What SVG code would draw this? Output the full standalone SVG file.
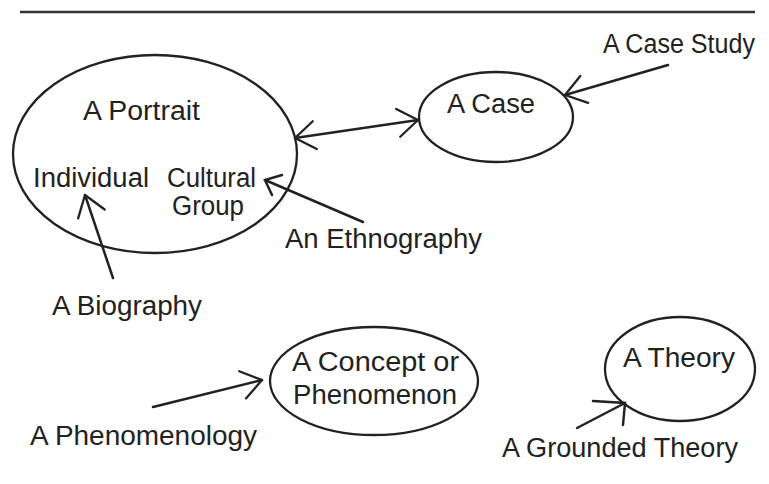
<svg xmlns="http://www.w3.org/2000/svg" width="769" height="484" viewBox="0 0 769 484">
  <defs>
    <marker id="open" viewBox="-26 -17 28 34" refX="0" refY="0" markerWidth="28" markerHeight="34" markerUnits="userSpaceOnUse" orient="auto-start-reverse">
      <path d="M-20,-14 L0,0 L-20,14" fill="none" stroke="#222" stroke-width="2.3" stroke-linecap="round" stroke-linejoin="round"/>
    </marker>
  </defs>
  <style>
    .shape { fill: none; stroke: #222; stroke-width: 2.3; }
    .link { fill: none; stroke: #222; stroke-width: 2.5; stroke-linecap: round; }
    .arrow { marker-end: url(#open); }
    .lbl { font-family: "Liberation Sans", Arial, sans-serif; font-size: 27px; fill: #222; }
  </style>
  <rect width="769" height="484" fill="#ffffff"/>
  <line x1="20" y1="12" x2="755" y2="12" stroke="#333" stroke-width="2.6"/>

  <g id="portrait">
    <ellipse class="shape" cx="155" cy="154" rx="142" ry="99"/>
    <text class="lbl" x="83" y="120" textLength="117" lengthAdjust="spacingAndGlyphs">A Portrait</text>
    <text class="lbl" x="33" y="187" textLength="116" lengthAdjust="spacingAndGlyphs">Individual</text>
    <text class="lbl" x="167" y="187" textLength="89" lengthAdjust="spacingAndGlyphs">Cultural</text>
    <text class="lbl" x="172" y="215" textLength="72" lengthAdjust="spacingAndGlyphs">Group</text>
  </g>
  <g id="case">
    <ellipse class="shape" cx="496" cy="117" rx="77" ry="45"/>
    <text class="lbl" x="447" y="113" textLength="88" lengthAdjust="spacingAndGlyphs">A Case</text>
  </g>
  <g id="case-study">
    <text class="lbl" x="603" y="53" textLength="152" lengthAdjust="spacingAndGlyphs">A Case Study</text>
  </g>
  <g id="ethnography">
    <text class="lbl" x="285" y="248" textLength="197" lengthAdjust="spacingAndGlyphs">An Ethnography</text>
  </g>
  <g id="biography">
    <text class="lbl" x="52" y="315" textLength="150" lengthAdjust="spacingAndGlyphs">A Biography</text>
  </g>
  <g id="concept">
    <ellipse class="shape" cx="374" cy="381" rx="104" ry="54"/>
    <text class="lbl" x="292" y="371" textLength="167" lengthAdjust="spacingAndGlyphs">A Concept or</text>
    <text class="lbl" x="293" y="404" textLength="164" lengthAdjust="spacingAndGlyphs">Phenomenon</text>
  </g>
  <g id="phenomenology">
    <text class="lbl" x="30" y="445" textLength="227" lengthAdjust="spacingAndGlyphs">A Phenomenology</text>
  </g>
  <g id="theory">
    <ellipse class="shape" cx="680" cy="369" rx="75" ry="52"/>
    <text class="lbl" x="623" y="367" textLength="112" lengthAdjust="spacingAndGlyphs">A Theory</text>
  </g>
  <g id="grounded-theory">
    <text class="lbl" x="502" y="457" textLength="236" lengthAdjust="spacingAndGlyphs">A Grounded Theory</text>
  </g>

  <g id="connectors">
    <line class="link arrow" x1="668" y1="65" x2="565" y2="95"/>
    <line class="link arrow" x1="295" y1="138" x2="418" y2="120" style="marker-start:url(#open)"/>
    <line class="link" x1="363" y1="222" x2="265" y2="180"/>
    <polyline class="link" points="282,175 265,180 272,195"/>
    <line class="link arrow" x1="113" y1="278" x2="85" y2="195"/>
    <line class="link arrow" x1="153" y1="407" x2="262" y2="380"/>
    <line class="link" x1="577" y1="428" x2="625" y2="403"/>
    <polyline class="link" points="593,401 625,403 623,425"/>
  </g>
</svg>
